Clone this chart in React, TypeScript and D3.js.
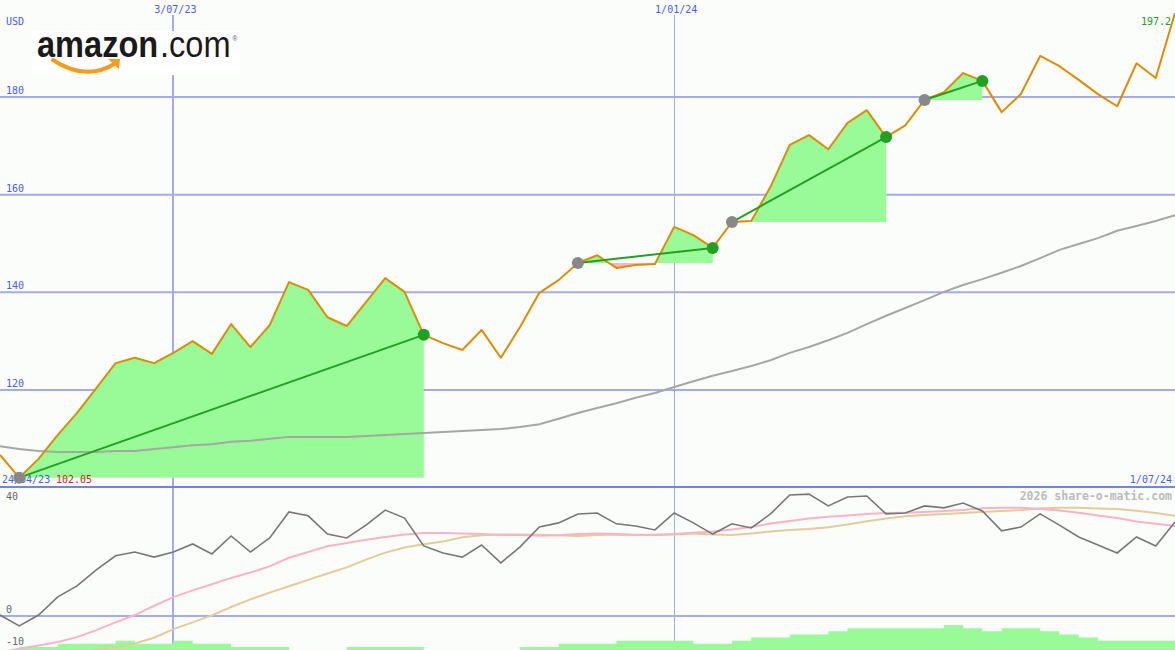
import React from "react";
import * as d3 from "d3";

// Weekly closes of Amazon.com in USD; week 0 is Monday 1 May 2023
const closes = [
  106.7, 102.05, 105.9, 110.8, 115.3, 120.4, 125.5, 126.6, 125.5, 127.6,
  130.0, 127.4, 133.5, 128.8, 133.3, 142.1, 140.5, 134.9, 133.1, 138.0,
  142.9, 140.1, 131.3, 129.6, 128.2, 132.3, 126.6, 132.9, 139.9, 142.5,
  146.0, 147.6, 145.0, 145.6, 145.8, 153.4, 151.7, 149.1, 154.4, 154.6,
  161.6, 170.2, 172.2, 169.3, 174.7, 177.3, 171.8, 174.2, 179.4, 181.0,
  184.9, 183.3, 176.9, 180.6, 188.4, 186.3, 183.5, 180.6, 178.1, 186.9,
  183.9, 197.2,
];

// Long moving average of the close
const longAverage = [
  108.5, 107.9, 107.5, 107.3, 107.3, 107.3, 107.5, 107.5, 107.9, 108.3,
  108.7, 108.9, 109.4, 109.6, 110.0, 110.4, 110.4, 110.4, 110.4, 110.6,
  110.8, 111.0, 111.2, 111.4, 111.6, 111.8, 112.0, 112.4, 113.0, 114.1,
  115.3, 116.3, 117.3, 118.4, 119.4, 120.6, 121.8, 122.9, 123.9, 124.9,
  126.1, 127.6, 128.8, 130.2, 131.7, 133.5, 135.2, 136.8, 138.4, 140.1,
  141.5, 142.7, 144.0, 145.4, 147.0, 148.7, 149.9, 151.1, 152.6, 153.6,
  154.6, 155.8,
];

// Lower panel: momentum and its two smoothings
const momentum = [
  0.3, -3.1, 0.3, 6.0, 9.4, 14.4, 18.8, 20.0, 18.4, 20.0,
  22.5, 19.4, 25.0, 20.0, 24.4, 32.5, 31.3, 25.6, 24.4, 28.4,
  33.1, 30.6, 21.9, 19.7, 18.4, 22.2, 16.6, 21.6, 27.8, 29.1,
  31.9, 32.2, 28.8, 28.1, 26.9, 32.2, 29.1, 25.6, 28.8, 27.5,
  31.9, 37.8, 38.1, 34.4, 37.2, 37.5, 31.9, 32.2, 34.4, 33.8,
  35.3, 32.8, 26.6, 27.8, 31.9, 28.4, 24.7, 22.2, 19.7, 24.7,
  21.9, 29.4,
];

const momentumFast = [
  -11.5, -10.2, -9.2, -8.1, -6.6, -4.4, -2.0, 0.3, 3.2, 5.9,
  8.0, 9.9, 11.9, 13.6, 15.5, 18.2, 20.0, 21.8, 22.8, 23.8,
  24.7, 25.5, 25.9, 25.9, 25.8, 25.6, 25.3, 25.3, 25.1, 25.2,
  25.6, 25.8, 25.6, 25.3, 25.4, 25.6, 26.0, 26.4, 27.0, 27.8,
  28.9, 29.7, 30.5, 31.0, 31.4, 31.9, 32.2, 32.3, 32.5, 32.8,
  33.1, 33.7, 33.8, 33.8, 33.4, 33.0, 32.3, 31.4, 30.6, 29.5,
  28.8, 28.1,
];

const momentumSlow = [
  -16, -15, -14, -13, -12, -10.6, -9.8, -8.6, -6.8, -4.1,
  -2.0, 0.2, 2.8, 5.2, 7.3, 9.3, 11.3, 13.3, 15.2, 17.6,
  19.8, 21.4, 22.4, 23.3, 24.6, 25.2, 25.5, 25.5, 25.4, 25.2,
  25.0, 25.3, 25.5, 25.4, 25.3, 25.5, 25.8, 25.5, 25.3, 25.8,
  26.4, 26.9, 27.2, 27.7, 28.6, 29.6, 30.5, 31.2, 31.6, 31.9,
  32.2, 32.5, 32.8, 33.1, 33.6, 33.8, 33.8, 33.6, 33.4, 32.9,
  32.2, 31.3,
];

// Weekly strength histogram (steps)
const strength = [
  0, 1, 1, 2, 2, 2, 3, 2, 2, 3,
  2, 2, 1, 1, 1, 0, 0, 0, 1, 1,
  1, 1, 0, 0, 0, 0, 0, 1, 1, 2,
  2, 2, 3, 3, 3, 3, 2, 2, 3, 4,
  4, 5, 5, 6, 7, 7, 7, 7, 7, 8,
  7, 6, 7, 7, 6, 5, 4, 3, 3, 3,
  3, 3,
];

// Trades: week index of each buy and the matching sell
const tradeEntries = [1, 30, 38, 48];
const tradeExits = [22, 37, 46, 51];

const priceTicks = [120, 140, 160, 180];
const lowerTicks = [40, 0, -10];
const dateTicks = [new Date(2023, 6, 3), new Date(2024, 0, 1)];
const dateTickLabels = ["3/07/23", "1/01/24"];
const dateTickWidths = [2, 1];

const W = 1175;
const H = 650;
const MONO = "'DejaVu Sans Mono', monospace";
const GRID = "#a3abf2";
const BLUE_TEXT = "#4a5cf0";

const start = new Date(2023, 4, 1);
const weeks = closes.map((_, i) => d3.timeMonday.offset(start, i));

export default function App() {
  const x = d3.scaleTime().domain([weeks[0], weeks[weeks.length - 1]]).range([0, W]);
  const yMain = d3.scaleLinear().domain([120, 180]).range([390, 97]);
  const yLow = d3.scaleLinear().domain([0, 40]).range([616, 488]);
  const yBar = d3.scaleLinear().domain([0, 8]).range([H, 625]);

  const line = (vals: number[], y: d3.ScaleLinear<number, number>) =>
    d3
      .line<number>()
      .x((_, i) => x(weeks[i]))
      .y((v) => y(v))(vals) || "";

  const sepY = 487;

  // Step histogram: each week spans to the next week
  const barPath = strength
    .map((v, i) => {
      if (v <= 0) return "";
      const x0 = x(weeks[i]);
      const x1 = i + 1 < weeks.length ? x(weeks[i + 1]) : x0 + (x0 - x(weeks[i - 1]));
      return `M${x0},${H}V${yBar(v)}H${x1}V${H}Z`;
    })
    .join("");

  const trades = tradeEntries.map((e, k) => {
    const ex = tradeExits[k];
    const idx = d3.range(e, ex + 1);
    const base = yMain(closes[e]);
    const area =
      d3
        .area<number>()
        .x((i) => x(weeks[i]))
        .y0(base)
        .y1((i) => yMain(closes[i]))(idx) || "";
    return {
      k,
      area,
      base,
      x0: x(weeks[e]),
      x1: x(weeks[ex]),
      y0: yMain(closes[e]),
      y1: yMain(closes[ex]),
    };
  });

  return (
    <svg
      width={W}
      height={H}
      style={{ position: "absolute", left: 0, top: 0, display: "block" }}
    >
      <defs>
        {trades.map((t) => (
          <React.Fragment key={t.k}>
            <clipPath id={`above${t.k}`}>
              <rect x={0} y={0} width={W} height={t.base} />
            </clipPath>
            <clipPath id={`below${t.k}`}>
              <rect x={0} y={t.base} width={W} height={H - t.base} />
            </clipPath>
          </React.Fragment>
        ))}
        <clipPath id="lowerPanel">
          <rect x={0} y={sepY + 1} width={W} height={H - sepY} />
        </clipPath>
        <clipPath id="mainPanel">
          <rect x={0} y={0} width={W} height={sepY} />
        </clipPath>
      </defs>

      <rect x={0} y={0} width={W} height={H} fill="#fbfdfb" />

      {/* horizontal price grid */}
      {priceTicks.map((v) => (
        <line key={v} x1={0} x2={W} y1={yMain(v)} y2={yMain(v)} stroke={GRID} strokeWidth={2} />
      ))}
      {/* lower panel zero line */}
      <line x1={0} x2={W} y1={yLow(0)} y2={yLow(0)} stroke={GRID} strokeWidth={2} />

      {/* date grid */}
      {dateTicks.map((d, i) => (
        <line
          key={i}
          x1={Math.round(x(d)) + (dateTickWidths[i] === 1 ? 0.5 : 0)}
          x2={Math.round(x(d)) + (dateTickWidths[i] === 1 ? 0.5 : 0)}
          y1={15}
          y2={H}
          stroke={GRID}
          strokeWidth={dateTickWidths[i]}
        />
      ))}

      {/* trade fills */}
      {trades.map((t) => (
        <g key={t.k}>
          <path d={t.area} fill="#98fb98" clipPath={`url(#above${t.k})`} />
          <path d={t.area} fill="#ffb6c1" clipPath={`url(#below${t.k})`} />
        </g>
      ))}

      {/* lower panel histogram */}
      <path d={barPath} fill="#98fb98" />

      {/* main panel lines */}
      <g clipPath="url(#mainPanel)">
        <path d={line(longAverage, yMain)} fill="none" stroke="#a6a6a6" strokeWidth={2} />
        <path d={line(closes, yMain)} fill="none" stroke="#dd8c00" strokeWidth={2} strokeLinejoin="round" />
      </g>

      {/* lower panel lines */}
      <g clipPath="url(#lowerPanel)">
        <path d={line(momentumSlow, yLow)} fill="none" stroke="#e3cc98" strokeWidth={2} />
        <path d={line(momentumFast, yLow)} fill="none" stroke="#f9b3c6" strokeWidth={2} />
        <path d={line(momentum, yLow)} fill="none" stroke="#777777" strokeWidth={1.6} />
      </g>

      {/* panel separator */}
      <line x1={0} x2={W} y1={sepY} y2={sepY} stroke="#7282ee" strokeWidth={2} />

      {/* axis text */}
      <g fontFamily={MONO} fontSize={10}>
        <text x={6} y={25} fill={BLUE_TEXT}>USD</text>
        {priceTicks.map((v) => (
          <text key={v} x={6} y={yMain(v) - 3} fill={BLUE_TEXT}>
            {v}
          </text>
        ))}
        {dateTicks.map((d, i) => (
          <text key={i} x={x(d) + 2} y={13} fill={BLUE_TEXT} textAnchor="middle">
            {dateTickLabels[i]}
          </text>
        ))}
        <text x={2} y={483} fill={BLUE_TEXT}>24/04/23</text>
        <text x={56} y={483} fill="#cc2222">{closes[tradeEntries[0]].toFixed(2)}</text>
        <text x={1172} y={483} fill={BLUE_TEXT} textAnchor="end">1/07/24</text>
        <text x={1171} y={25} fill="#229922" textAnchor="end">
          {closes[closes.length - 1].toFixed(1)}
        </text>
        {lowerTicks.map((v, i) => (
          <text key={v} x={6} y={i === 0 ? yLow(v) + 12 : yLow(v) - 3} fill="#666666">
            {v}
          </text>
        ))}
      </g>
      <text
        x={1172}
        y={500}
        fontFamily={MONO}
        fontSize={11.5}
        fontWeight="bold"
        fill="#bbbbbb"
        textAnchor="end"
      >
        2026 share-o-matic.com
      </text>

      {/* trade lines and markers */}
      {trades.map((t) => (
        <g key={t.k}>
          <line x1={t.x0} y1={t.y0} x2={t.x1} y2={t.y1} stroke="#22a022" strokeWidth={2} />
          <circle cx={t.x0} cy={t.y0} r={6} fill="#888888" />
          <circle cx={t.x1} cy={t.y1} r={6} fill="#22a022" />
        </g>
      ))}

      {/* logo */}
      <g>
        <rect x={32} y={31} width={208} height={44} fill="#ffffff" />
        <text
          transform="translate(37,57) scale(0.88,1)"
          fontFamily="'Liberation Sans', Arial, sans-serif"
          fontSize={37}
          fill="#1a1a1a"
        >
          <tspan fontWeight="bold">amazon</tspan>
          <tspan dx={2}>.com</tspan>
          <tspan fontSize={8} dx={2} dy={-16} fill="#555">®</tspan>
        </text>
        <path d="M53,60 Q86,82 116,63" fill="none" stroke="#f79b1c" strokeWidth={4} strokeLinecap="round" />
        <path d="M108,59 L120,59 L119,69 Z" fill="#f79b1c" />
      </g>
    </svg>
  );
}
